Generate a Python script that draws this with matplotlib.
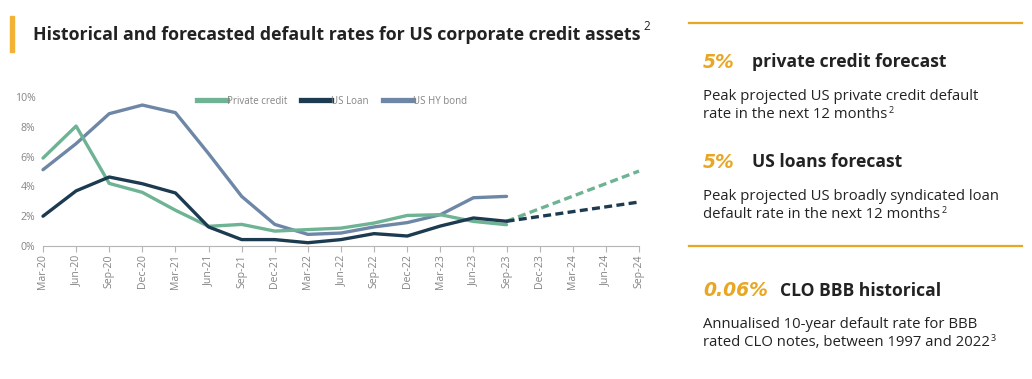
import matplotlib
matplotlib.use("Agg")
import matplotlib.pyplot as plt
from matplotlib.lines import Line2D
from matplotlib.text import Annotation

quarters = ["Mar-20", "Jun-20", "Sep-20", "Dec-20", "Mar-21", "Jun-21", "Sep-21", "Dec-21",
            "Mar-22", "Jun-22", "Sep-22", "Dec-22", "Mar-23", "Jun-23", "Sep-23",
            "Dec-23", "Mar-24", "Jun-24", "Sep-24"]
private_credit = [5.9, 8.05, 4.2, 3.6, 2.4, 1.32, 1.45, 1.0, 1.1, 1.2, 1.54, 2.05, 2.1, 1.65, 1.43]
us_loan = [2.0, 3.7, 4.63, 4.18, 3.56, 1.28, 0.43, 0.43, 0.22, 0.43, 0.83, 0.67, 1.34, 1.88, 1.66]
us_hy_bond = [5.12, 6.87, 8.88, 9.46, 8.95, 6.2, 3.33, 1.45, 0.78, 0.87, 1.28, 1.57, 2.1, 3.24, 3.33]
forecast_quarters = ["Sep-23", "Sep-24"]
private_credit_fc = [1.66, 5.03]
us_loan_fc = [1.66, 2.95]
y_ticks = [0, 2, 4, 6, 8, 10]
series_names = ["Private credit", "US Loan", "US HY bond"]

C_PC = "#6db394"
C_LOAN = "#1d3b50"
C_HY = "#6e87a6"
ORANGE = "#e8a623"
DARK = "#222222"
GREY = "#858585"
SANS = "Open Sans"

W, H = 1032, 379
fig = plt.figure(figsize=(W / 100, H / 100), dpi=100)
fig.patch.set_facecolor("white")


def fx(px):
    return px / W


def fy(py):
    return 1 - py / H


def sup(txt_artist, s, size, dx=1.5, dy=-2):
    a = Annotation(s, xy=(1, 1), xycoords=txt_artist, xytext=(dx, dy),
                   textcoords="offset points", fontsize=size, family=SANS,
                   color=DARK, va="top", ha="left", annotation_clip=False)
    fig.add_artist(a)
    return a


# header bar and title
fig.patches.append(plt.Rectangle((fx(10), fy(52)), fx(4), (52 - 16) / H,
                                 transform=fig.transFigure, color="#f2b233", zorder=5))
title = fig.text(fx(33), fy(35), "Historical and forecasted default rates for US corporate credit assets",
                 fontsize=12.8, fontweight="bold", family=SANS, color=DARK, va="center", ha="left")
sup(title, "2", 8.5, dx=2, dy=4)

# chart
x0, x1 = 43, 639
ytop, ybot = 97, 246
ax = fig.add_axes([fx(x0), fy(ybot), (x1 - x0) / W, (ybot - ytop) / H])
idx = {q: i for i, q in enumerate(quarters)}
xs_hist = list(range(len(private_credit)))
xs_fc = [idx[q] for q in forecast_quarters]

lw = 2.4
ax.plot(xs_hist, us_hy_bond, color=C_HY, lw=lw, solid_capstyle="round", zorder=3, clip_on=False)
ax.plot(xs_hist, private_credit, color=C_PC, lw=lw, solid_capstyle="round", zorder=3, clip_on=False)
ax.plot(xs_hist, us_loan, color=C_LOAN, lw=lw, solid_capstyle="round", zorder=4, clip_on=False)
ax.plot(xs_fc, private_credit_fc, color=C_PC, lw=lw, ls=(0, (2.4, 1.3)), zorder=3, clip_on=False)
ax.plot(xs_fc, us_loan_fc, color=C_LOAN, lw=lw, ls=(0, (2.4, 1.3)), zorder=4, clip_on=False)

ax.set_xlim(0, len(quarters) - 1)
ax.set_ylim(0, 10)
ax.set_xticks(range(len(quarters)))
ax.set_xticklabels(quarters, rotation=90, fontsize=7.6, color=GREY, family=SANS)
ax.set_yticks(y_ticks)
ax.set_yticklabels([f"{v}%" for v in y_ticks], fontsize=7.6, color=GREY, family=SANS)
for s in ["top", "right", "left"]:
    ax.spines[s].set_visible(False)
ax.spines["bottom"].set_color("#b5b5b5")
ax.spines["bottom"].set_linewidth(0.8)
ax.tick_params(axis="x", length=4, color="#b5b5b5", width=0.8, pad=2)
ax.tick_params(axis="y", length=0, pad=5.5)
ax.set_facecolor("none")

handles = [Line2D([], [], color=C_PC, lw=3.8),
           Line2D([], [], color=C_LOAN, lw=3.8),
           Line2D([], [], color=C_HY, lw=3.8)]
leg = ax.legend(handles, series_names, loc="center",
                bbox_to_anchor=((332 - x0) / (x1 - x0), 1 - (101 - ytop) / (ybot - ytop)),
                ncol=3, frameon=False, handlelength=3.1, handletextpad=0.0,
                columnspacing=1.4, prop={"family": SANS, "size": 7.0})
for t in leg.get_texts():
    t.set_color(GREY)

# right panel
for yl in (23, 246):
    fig.add_artist(Line2D([fx(689), fx(1022)], [fy(yl), fy(yl)], transform=fig.transFigure,
                          color=ORANGE, lw=1.6))


def head(y, big, head_txt, head_x):
    fig.text(fx(703), fy(y), big, fontsize=13.5, fontweight="bold", style="italic",
             family="DejaVu Sans", color=ORANGE, va="center", ha="left")
    fig.text(fx(head_x), fy(y), head_txt, fontsize=12.6, fontweight="bold", family=SANS,
             color=DARK, va="center", ha="left")


def body(y_list, lines, s):
    last = None
    for yy, ln in zip(y_list, lines):
        last = fig.text(fx(703), fy(yy), ln, fontsize=10.7, family=SANS, color=DARK,
                        va="center", ha="left")
    sup(last, s, 6.5, dx=0.8, dy=1)


head(62, "5%", "private credit forecast", 752)
body([97, 115], ["Peak projected US private credit default", "rate in the next 12 months"], "2")
head(162, "5%", "US loans forecast", 752)
body([197, 215], ["Peak projected US broadly syndicated loan", "default rate in the next 12 months"], "2")
head(291, "0.06%", "CLO BBB historical", 780)
body([325, 343], ["Annualised 10-year default rate for BBB", "rated CLO notes, between 1997 and 2022"], "3")

fig.savefig("out.png", dpi=100)
